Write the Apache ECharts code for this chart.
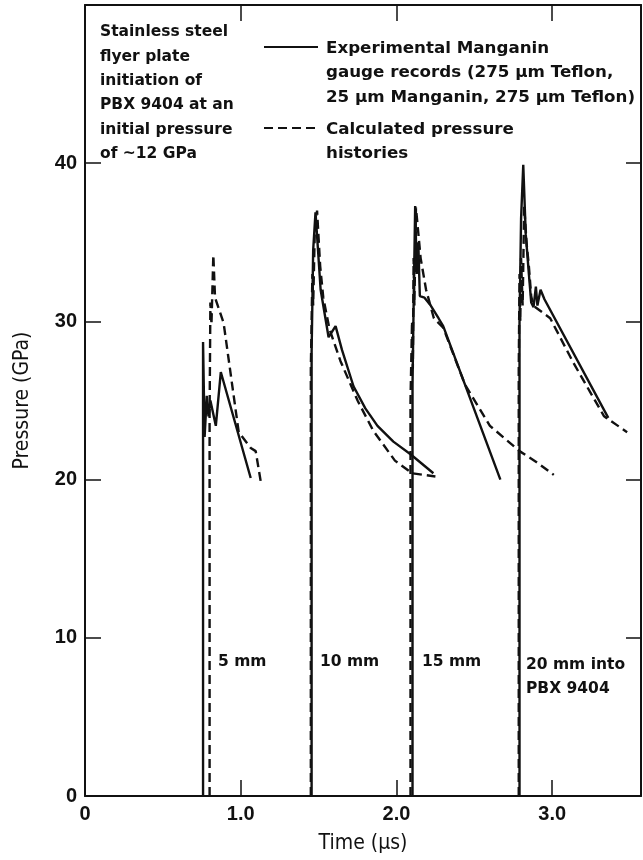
<!DOCTYPE html>
<html>
<head>
<meta charset="utf-8">
<script src="https://cdn.jsdelivr.net/npm/echarts@6/dist/echarts.min.js"></script>
<style>
  html, body { margin: 0; padding: 0; background: #fff; }
  #chart { width: 643px; height: 860px; }
</style>
</head>
<body>
<div id="chart"></div>
<script>
// ---- Data (time in microseconds, pressure in GPa) ----
const gauge5mm = [[0.758,0],[0.758,28.7],[0.768,22.7],[0.782,25.3],[0.793,24.0],[0.805,25.0],[0.84,23.4],[0.872,26.8],[1.064,20.1]];
const calc5mm  = [[0.80,0],[0.80,24.0],[0.805,31.2],[0.812,29.8],[0.824,34.2],[0.835,31.5],[0.89,29.9],[0.987,23.0],[1.064,22.0],[1.096,21.8],[1.128,19.9]];

const gauge10mm = [[1.455,0],[1.455,28.0],[1.465,34.5],[1.48,36.9],[1.513,32.0],[1.564,29.0],[1.609,29.7],[1.65,28.2],[1.724,25.9],[1.80,24.5],[1.878,23.4],[1.98,22.4],[2.09,21.6],[2.237,20.4]];
const calc10mm  = [[1.45,0],[1.45,27.0],[1.46,33.0],[1.465,31.0],[1.475,35.5],[1.49,37.0],[1.51,33.5],[1.53,31.5],[1.57,29.5],[1.64,27.5],[1.75,25.0],[1.85,23.1],[1.99,21.2],[2.10,20.4],[2.25,20.2]];

const gauge15mm = [[2.103,0],[2.103,26.0],[2.11,31.0],[2.12,37.3],[2.13,33.0],[2.14,35.0],[2.15,31.6],[2.18,31.5],[2.22,31.0],[2.27,30.2],[2.30,29.7],[2.667,20.0]];
const calc15mm  = [[2.09,0],[2.09,25.0],[2.10,30.0],[2.105,27.0],[2.11,34.0],[2.115,31.0],[2.125,37.2],[2.155,34.0],[2.19,32.0],[2.24,30.2],[2.30,29.6],[2.44,26.0],[2.60,23.4],[2.79,21.8],[2.90,21.1],[3.01,20.3]];

const gauge20mm = [[2.79,0],[2.79,30.0],[2.80,36.5],[2.814,39.9],[2.83,35.5],[2.85,33.0],[2.865,31.2],[2.88,30.9],[2.895,32.2],[2.905,31.0],[2.925,32.0],[2.95,31.4],[3.36,23.9]];
const calc20mm  = [[2.785,0],[2.785,27.0],[2.79,33.0],[2.795,30.0],[2.80,34.0],[2.81,31.0],[2.82,37.3],[2.835,35.0],[2.85,33.5],[2.865,31.6],[2.878,31.0],[2.987,30.2],[3.135,27.4],[3.333,24.0],[3.481,23.0]];

const xTicks = [0, 1, 2, 3];
const xTickLabels = ['0', '1.0', '2.0', '3.0'];
const yTicks = [0, 10, 20, 30, 40];
const depthLabels = ['5 mm', '10 mm', '15 mm', '20 mm into\nPBX 9404'];
const noteText = ['Stainless steel', 'flyer plate', 'initiation of', 'PBX 9404 at an', 'initial pressure', 'of ~12 GPa'];
const legendSolid = ['Experimental Manganin', 'gauge records (275 \u03bcm Teflon,', '25 \u03bcm Manganin, 275 \u03bcm Teflon)'];
const legendDashed = ['Calculated pressure', 'histories'];

// ---- Chart ----
const chart = echarts.init(document.getElementById('chart'), null, { renderer: 'canvas' });
const BLACK = '#111';
const labelFont = { color: BLACK, fontFamily: 'Liberation Sans', fontWeight: 'bold', fontSize: 20 };
const textFamily = 'DejaVu Sans';
const titleFont = { color: BLACK, fontFamily: 'DejaVu Sans Condensed', fontSize: 21 };

function lineSeries(name, data, dashed) {
  return {
    name: name, type: 'line', data: data,
    symbol: 'none', showSymbol: false, silent: true,
    lineStyle: { color: BLACK, width: 2.4, type: dashed ? [9, 5] : 'solid' },
    z: dashed ? 3 : 2
  };
}

function textEl(str, x, y, size, weight, lh) {
  return {
    type: 'text', x: x, y: y, silent: true,
    style: {
      text: str, fill: BLACK, font: weight + ' ' + size + 'px "' + textFamily + '"',
      lineHeight: lh || size * 1.2,
      textAlign: 'left', textVerticalAlign: 'top', align: 'left', verticalAlign: 'top'
    }
  };
}

const option = {
  animation: false,
  backgroundColor: '#fff',
  grid: { left: 85, top: 5, width: 556, height: 791, containLabel: false },
  xAxis: [
    {
      type: 'value', position: 'bottom', min: 0, max: 3.57,
      name: 'Time (\u03bcs)', nameLocation: 'middle', nameGap: 37,
      nameTextStyle: titleFont,
      axisLine: { show: true, onZero: false, lineStyle: { color: BLACK, width: 2 } },
      axisTick: { show: true, inside: true, length: 16, customValues: [1, 2, 3], lineStyle: { color: BLACK, width: 1.5 } },
      axisLabel: Object.assign({ customValues: xTicks, margin: 8,
        formatter: function (v) { const i = xTicks.indexOf(v); return i >= 0 ? xTickLabels[i] : ''; } }, labelFont),
      splitLine: { show: false }
    },
    {
      type: 'value', position: 'top', min: 0, max: 3.57,
      axisLine: { show: true, onZero: false, lineStyle: { color: BLACK, width: 2 } },
      axisTick: { show: true, inside: true, length: 16, customValues: [1, 2, 3], lineStyle: { color: BLACK, width: 1.5 } },
      axisLabel: { show: false }, splitLine: { show: false }
    }
  ],
  yAxis: [
    {
      type: 'value', position: 'left', min: 0, max: 50, interval: 10,
      name: 'Pressure (GPa)', nameLocation: 'middle', nameGap: 52, nameRotate: 90,
      nameTextStyle: titleFont,
      axisLine: { show: true, onZero: false, lineStyle: { color: BLACK, width: 2 } },
      axisTick: { show: true, inside: true, length: 16, customValues: [10, 20, 30, 40], lineStyle: { color: BLACK, width: 1.5 } },
      axisLabel: Object.assign({ customValues: yTicks, margin: 8, formatter: function (v) { return String(v); } }, labelFont),
      splitLine: { show: false }
    },
    {
      type: 'value', position: 'right', min: 0, max: 50, interval: 10,
      axisLine: { show: true, onZero: false, lineStyle: { color: BLACK, width: 2 } },
      axisTick: { show: true, inside: true, length: 15, customValues: [10, 20, 30, 40], lineStyle: { color: BLACK, width: 1.5 } },
      axisLabel: { show: false }, splitLine: { show: false }
    }
  ],
  series: [
    lineSeries('Experimental Manganin gauge records', gauge5mm, false),
    lineSeries('Experimental Manganin gauge records', gauge10mm, false),
    lineSeries('Experimental Manganin gauge records', gauge15mm, false),
    lineSeries('Experimental Manganin gauge records', gauge20mm, false),
    lineSeries('Calculated pressure histories', calc5mm, true),
    lineSeries('Calculated pressure histories', calc10mm, true),
    lineSeries('Calculated pressure histories', calc15mm, true),
    lineSeries('Calculated pressure histories', calc20mm, true)
  ],
  graphic: [
    textEl(noteText.join('\n'), 100, 20, 15.5, 'bold', 24.4),
    { type: 'line', silent: true, shape: { x1: 264, y1: 47, x2: 318, y2: 47 }, style: { stroke: BLACK, lineWidth: 2 } },
    textEl(legendSolid.join('\n'), 326, 36, 16.7, 'bold', 24.5),
    { type: 'line', silent: true, shape: { x1: 264, y1: 128, x2: 318, y2: 128 }, style: { stroke: BLACK, lineWidth: 2, lineDash: [9, 5] } },
    textEl(legendDashed.join('\n'), 326, 117, 16.7, 'bold', 24.5),
    textEl(depthLabels[0], 218, 653, 15.5, 'bold'),
    textEl(depthLabels[1], 320, 653, 15.5, 'bold'),
    textEl(depthLabels[2], 422, 653, 15.5, 'bold'),
    textEl(depthLabels[3], 526, 653, 15.5, 'bold', 24)
  ]
};
chart.setOption(option);
</script>
</body>
</html>
